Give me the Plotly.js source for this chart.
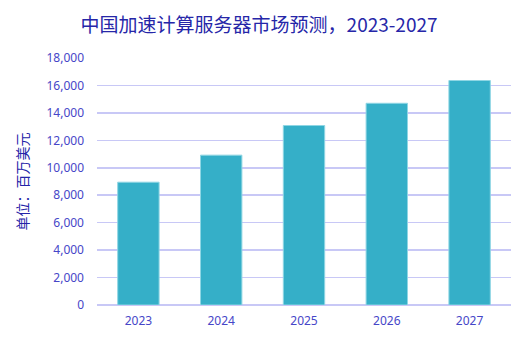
<!DOCTYPE html>
<html>
<head>
<meta charset="utf-8">
<script src="https://cdn.plot.ly/plotly-3.0.1.min.js"></script>
<style>html,body{margin:0;padding:0;background:#fff}#chart{width:532px;height:340px}</style>
</head>
<body>
<div id="chart"></div>
<script>
const years = ['2023', '2024', '2025', '2026', '2027'];
const marketValues = [8950, 10920, 13080, 14700, 16360];
const yTickValues = [0, 2000, 4000, 6000, 8000, 10000, 12000, 14000, 16000, 18000];

const fontFam = '"Noto Sans", "Noto Sans CJK SC", sans-serif';
const trace = {
  type: 'bar',
  x: years,
  y: marketValues,
  width: 0.5,
  marker: {color: '#35afc8', line: {color: '#8fd6e4', width: 1}},
  hoverinfo: 'x+y'
};
const layout = {
  width: 532, height: 340,
  margin: {l: 97, r: 21, t: 58, b: 35},
  paper_bgcolor: '#ffffff', plot_bgcolor: '#ffffff',
  showlegend: false,
  title: {
    text: '中国加速计算服务器市场预测，2023-2027',
    font: {family: '"Noto Sans CJK SC", "Noto Sans", sans-serif', size: 19, color: '#2626a8'},
    x: 0.487, xanchor: 'center', y: 0.925, yanchor: 'middle'
  },
  xaxis: {
    type: 'category',
    tickfont: {family: fontFam, size: 12, color: '#4646c8'},
    showgrid: false, zeroline: false, showline: false, ticks: '',
    ticklabelstandoff: 7
  },
  yaxis: {
    range: [0, 18000],
    tickvals: yTickValues,
    tickformat: ',d',
    tickfont: {family: fontFam, size: 12, color: '#4646c8'},
    gridcolor: '#c8c8f6', gridwidth: 1.5,
    zeroline: true, zerolinecolor: '#c8c8f6', zerolinewidth: 1.5,
    showline: false, ticks: '', ticklen: 0, automargin: false,
    ticklabelstandoff: 12,
    title: {
      text: '单位：百万美元',
      font: {family: '"Noto Sans CJK SC", sans-serif', size: 14, color: '#2424a8'},
      standoff: 14
    }
  }
};
Plotly.newPlot('chart', [trace], layout, {displayModeBar: false, staticPlot: true});
</script>
</body>
</html>
